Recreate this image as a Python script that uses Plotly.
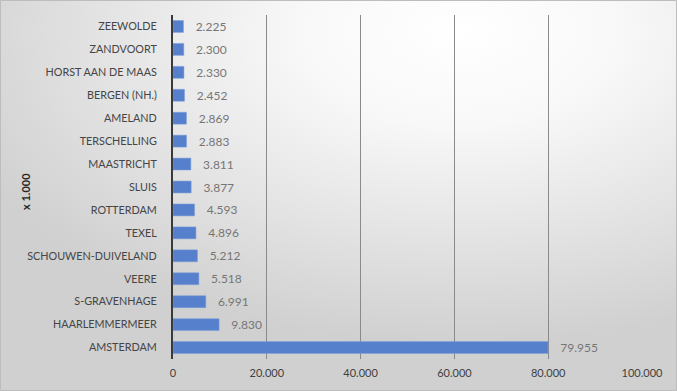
import plotly.graph_objects as go
import base64

categories = ["AMSTERDAM", "HAARLEMMERMEER", "S-GRAVENHAGE", "VEERE", "SCHOUWEN-DUIVELAND",
              "TEXEL", "ROTTERDAM", "SLUIS", "MAASTRICHT", "TERSCHELLING", "AMELAND",
              "BERGEN (NH.)", "HORST AAN DE MAAS", "ZANDVOORT", "ZEEWOLDE"]
values = [79955, 9830, 6991, 5518, 5212, 4896, 4593, 3877, 3811, 2883, 2869, 2452, 2330, 2300, 2225]
tick_vals = [0, 20000, 40000, 60000, 80000, 100000]
axis_title = "x 1.000"

W, H = 677, 391
L, R, T, B = 173, 35, 15, 32
pw, ph = W - L - R, H - T - B

svg = f'''<svg xmlns="http://www.w3.org/2000/svg" width="{W}" height="{H}">
<defs><radialGradient id="g" cx="0.68" cy="0.08" r="0.8" gradientUnits="objectBoundingBox">
<stop offset="0" stop-color="#ffffff"/><stop offset="0.3" stop-color="#f8f8f8"/><stop offset="1" stop-color="#d0d0d0"/></radialGradient></defs>
<rect width="{W}" height="{H}" fill="url(#g)"/></svg>'''
src = "data:image/svg+xml;base64," + base64.b64encode(svg.encode()).decode()

font = "Lato"
fig = go.Figure()
fig.add_trace(go.Bar(
    x=values, y=categories, orientation="h",
    marker=dict(color="#5780CC", line=dict(color="#7d9fdc", width=0.5)),
    width=0.52,
    texttemplate="   %{x:,d}", textposition="outside", cliponaxis=False, constraintext="none",
    textfont=dict(family=font, size=12, color="#767676"),
    hoverinfo="skip",
))

fig.update_layout(
    width=W, height=H,
    margin=dict(l=L, r=R, t=T, b=B, autoexpand=False),
    paper_bgcolor="#d9d9d9", plot_bgcolor="rgba(0,0,0,0)",
    separators=",.",
    showlegend=False,
    font=dict(family=font, size=11, color="#404040"),
    images=[dict(source=src, xref="paper", yref="paper",
                 x=-L / pw, y=1 + T / ph, sizex=W / pw, sizey=H / ph,
                 xanchor="left", yanchor="top", sizing="stretch", layer="below")],
    xaxis=dict(range=[0, 100000], tickvals=tick_vals, tickformat=",d", automargin=False,
               showgrid=True, gridcolor="#8a8a8a", gridwidth=1, zeroline=False,
               showline=False, ticks="", ticklabelstandoff=6,
               tickfont=dict(size=11, color="#404040")),
    yaxis=dict(showgrid=False, showline=True, linecolor="#3a3a3a", linewidth=2, automargin=False,
               ticks="", ticklabelstandoff=12, tickfont=dict(size=10.8, color="#454545"),
               range=[-0.5, 14.5]),
    annotations=[dict(text="<b>" + axis_title + "</b>", xref="paper", yref="paper",
                      x=(25 - L) / pw, y=(H - B - 192) / ph, textangle=-90,
                      xanchor="center", yanchor="middle",
                      showarrow=False, font=dict(size=11, color="#262626"))],
    shapes=[dict(type="rect", xref="paper", yref="paper",
                 x0=-L / pw + 0.5 / pw, x1=1 + (R - 0.5) / pw,
                 y0=-(B - 0.5) / ph, y1=1 + (T - 0.5) / ph,
                 line=dict(color="#bdbdbd", width=1))],
)
fig.write_html("out.html", config={"displayModeBar": False},
               post_script="document.body.style.margin='0';")
